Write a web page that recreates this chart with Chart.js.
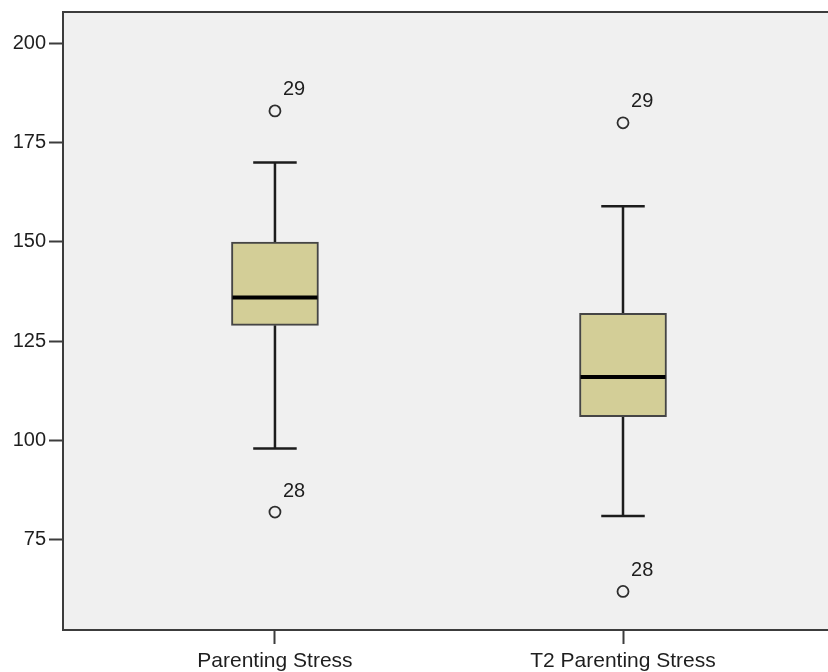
<!DOCTYPE html>
<html>
<head>
<meta charset="utf-8">
<title>Parenting Stress boxplot</title>
<script src="https://cdn.jsdelivr.net/npm/chart.js@4/dist/chart.umd.min.js"></script>
<style>
  html, body { margin: 0; padding: 0; background: #ffffff; overflow: hidden; }
  canvas { display: block; }
</style>
</head>
<body>
<canvas id="chart" width="828" height="672"></canvas>
<script>
// Variables shown as boxplots
const categories = ['Parenting Stress', 'T2 Parenting Stress'];

// Five-number summaries per variable
const q1Values      = [129, 106];
const q3Values      = [150, 132];
const medianValues  = [136, 116];
const whiskerLow    = [98, 81];
const whiskerHigh   = [170, 159];

// Outlying cases: variable index, value, case number
const outlierGroup  = [0, 0, 1, 1];
const outlierValues = [183, 82, 180, 62];
const outlierCases  = ['29', '28', '29', '28'];

// Value axis ticks
const yTicks = [75, 100, 125, 150, 175, 200];

const FONT = "'Liberation Sans', Arial, sans-serif";
const AXIS_COLOR = '#3c3c3c';
const BOX_WIDTH = 87;

const xPos = categories.map((_, i) => i + 1);

// Plot background and frame (the plot runs off the right edge)
const framePlugin = {
  id: 'frame',
  beforeDraw(chart) {
    const { ctx, chartArea: a } = chart;
    ctx.save();
    ctx.fillStyle = '#f0f0f0';
    ctx.fillRect(a.left, a.top, chart.width - a.left, a.bottom - a.top);
    ctx.restore();
  },
  afterDraw(chart) {
    const { ctx, chartArea: a } = chart;
    ctx.save();
    ctx.strokeStyle = AXIS_COLOR;
    ctx.lineWidth = 2;
    ctx.beginPath();
    ctx.moveTo(a.left, a.top);
    ctx.lineTo(chart.width, a.top);
    ctx.moveTo(a.left, a.bottom);
    ctx.lineTo(chart.width, a.bottom);
    ctx.stroke();
    ctx.restore();
  }
};

// Whiskers (behind the boxes) and medians (on top of the boxes)
const boxParts = {
  id: 'boxParts',
  beforeDatasetsDraw(chart) {
    const { ctx, scales: { x, y } } = chart;
    ctx.save();
    ctx.strokeStyle = '#1c1c1c';
    ctx.lineWidth = 2.5;
    const capHalf = BOX_WIDTH / 4;
    xPos.forEach((v, i) => {
      const cx = x.getPixelForValue(v);
      const yLo = y.getPixelForValue(whiskerLow[i]);
      const yHi = y.getPixelForValue(whiskerHigh[i]);
      const yQ1 = y.getPixelForValue(q1Values[i]);
      const yQ3 = y.getPixelForValue(q3Values[i]);
      ctx.beginPath();
      ctx.moveTo(cx, yHi); ctx.lineTo(cx, yQ3);
      ctx.moveTo(cx, yQ1); ctx.lineTo(cx, yLo);
      ctx.moveTo(cx - capHalf, yHi); ctx.lineTo(cx + capHalf, yHi);
      ctx.moveTo(cx - capHalf, yLo); ctx.lineTo(cx + capHalf, yLo);
      ctx.stroke();
    });
    ctx.restore();
  },
  afterDatasetsDraw(chart) {
    const { ctx, scales: { x, y } } = chart;
    ctx.save();
    ctx.strokeStyle = '#000000';
    ctx.lineWidth = 4;
    xPos.forEach((v, i) => {
      const cx = x.getPixelForValue(v);
      const ym = y.getPixelForValue(medianValues[i]);
      ctx.beginPath();
      ctx.moveTo(cx - BOX_WIDTH / 2 + 1, ym);
      ctx.lineTo(cx + BOX_WIDTH / 2 - 1, ym);
      ctx.stroke();
    });
    // case numbers beside the outliers
    const meta = chart.getDatasetMeta(1);
    ctx.fillStyle = '#1e1e1e';
    ctx.font = '20px ' + FONT;
    ctx.textAlign = 'left';
    ctx.textBaseline = 'middle';
    meta.data.forEach((pt, i) => {
      ctx.fillText(outlierCases[i], pt.x + 8, pt.y - 21);
    });
    ctx.restore();
  }
};

new Chart(document.getElementById('chart'), {
  data: {
    datasets: [
      {
        type: 'bar',
        label: 'IQR',
        data: xPos.map((v, i) => ({ x: v, y: [q1Values[i], q3Values[i]] })),
        backgroundColor: '#d3ce97',
        borderColor: '#454545',
        borderWidth: 2,
        borderSkipped: false,
        barThickness: BOX_WIDTH
      },
      {
        type: 'scatter',
        label: 'Outliers',
        data: outlierValues.map((v, i) => ({ x: xPos[outlierGroup[i]], y: v })),
        pointStyle: 'circle',
        pointRadius: 5.5,
        pointBorderWidth: 1.8,
        pointBorderColor: '#2e2e2e',
        pointBackgroundColor: 'rgba(0,0,0,0)'
      }
    ]
  },
  options: {
    responsive: false,
    animation: false,
    events: [],
    layout: { autoPadding: false, padding: { top: 12, left: 0, right: 0, bottom: 0 } },
    plugins: {
      legend: { display: false },
      tooltip: { enabled: false }
    },
    scales: {
      x: {
        type: 'linear',
        offset: false,
        min: 0.391,
        max: 2.589,
        afterBuildTicks(scale) { scale.ticks = xPos.map(v => ({ value: v })); },
        afterFit(scale) {
          scale.height = 42;
          scale.paddingLeft = 0;
          scale.paddingRight = 0;
        },
        ticks: {
          callback: (v) => categories[Math.round(v) - 1] || '',
          color: '#1e1e1e',
          font: { family: FONT, size: 21 },
          padding: 5,
          maxRotation: 0,
          autoSkip: false
        },
        grid: {
          offset: false,
          drawOnChartArea: false,
          drawTicks: true,
          tickLength: 14,
          tickWidth: 2,
          tickColor: AXIS_COLOR
        },
        border: { display: true, color: AXIS_COLOR, width: 2 }
      },
      y: {
        type: 'linear',
        min: 52.3,
        max: 207.9,
        afterBuildTicks(scale) { scale.ticks = yTicks.map(v => ({ value: v })); },
        afterFit(scale) {
          scale.width = 63;
          scale.paddingTop = 0;
          scale.paddingBottom = 0;
        },
        ticks: {
          color: '#1e1e1e',
          font: { family: FONT, size: 20 },
          padding: 3
        },
        grid: {
          drawOnChartArea: false,
          drawTicks: true,
          tickLength: 14,
          tickWidth: 2,
          tickColor: AXIS_COLOR
        },
        border: { display: true, color: AXIS_COLOR, width: 2 }
      }
    }
  },
  plugins: [framePlugin, boxParts]
});
</script>
</body>
</html>
